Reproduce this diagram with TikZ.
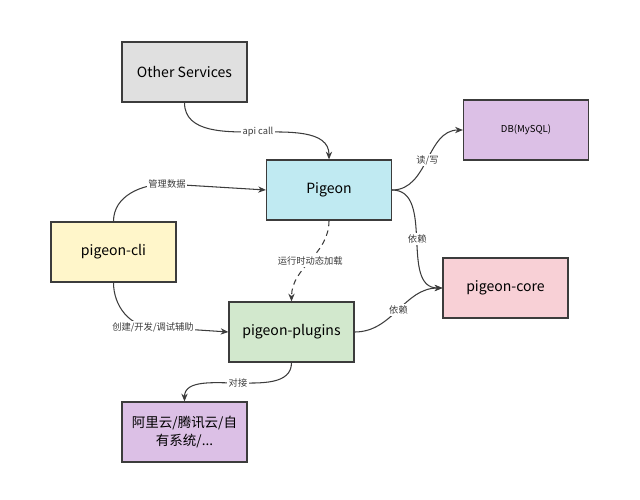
\documentclass[tikz,border=0pt]{standalone}
\usepackage{fontspec}
\setmainfont{Noto Sans CJK SC}
\usepackage{tikz}
\usetikzlibrary{arrows.meta, positioning}
\definecolor{mydark}{RGB}{60,60,60}
\definecolor{hdrgray}{RGB}{224,224,224}
\definecolor{hdrcyan}{RGB}{192,234,242}
\definecolor{hdrlilac}{RGB}{220,192,230}
\definecolor{hdryellow}{RGB}{255,246,202}
\definecolor{hdrgreen}{RGB}{210,232,205}
\definecolor{hdrpink}{RGB}{248,208,214}
\tikzset{
  pbox/.style={rectangle, draw=mydark, line width=0.9pt,
    minimum width=3.125cm, minimum height=1.5cm, align=center,
    font=\fontsize{10}{13}\selectfont},
  lbl/.style={fill=white, inner sep=1pt, font=\fontsize{6.6}{8}\selectfont,
    text=mydark},
  arrow/.style={-{Stealth[length=5.5pt, width=4.5pt]}, line width=0.75pt,
    color=mydark}
}

\begin{document}
\begin{tikzpicture}[on grid]
  \useasboundingbox (0,0) rectangle (16,-12.475);
  \node[pbox, fill=hdrgray] (os) at (4.6125,-1.8) {Other Services};
  \node[pbox, fill=hdrcyan, below right=2.95cm and 3.6125cm of os] (pig) {Pigeon};
  \node[pbox, fill=hdrlilac, above right=1.5cm and 4.925cm of pig,
    font=\fontsize{6.8}{8}\selectfont] (db) {DB(MySQL)};
  \node[pbox, fill=hdryellow, below left=1.55cm and 5.3875cm of pig] (cli) {pigeon-cli};
  \node[pbox, fill=hdrgreen, below left=3.55cm and 0.9375cm of pig] (plug) {pigeon-plugins};
  \node[pbox, fill=hdrpink, below right=2.45cm and 4.4125cm of pig] (core) {pigeon-core};
  \node[pbox, fill=hdrlilac, below left=2.5cm and 2.675cm of plug,
    font=\fontsize{9.6}{12.5}\selectfont] (ali) {阿里云/腾讯云/自\\有系统/...};
  % label points
  \coordinate (apic) at (6.45,-3.3);
  \coordinate (mgmt) at (4.175,-4.6);
  \coordinate (dev) at (3.825,-8.175);
  \coordinate (dock) at (5.95,-9.575);
  \draw[arrow] (os.south) to[out=-90, in=180] (apic) node[lbl] {api call}
    to[out=0, in=90] (pig.north);
  \draw[arrow] (cli.north) to[out=90, in=180] (mgmt) node[lbl] {管理数据}
    -- (pig.west);
  \draw[arrow] (cli.south) to[out=-90, in=180] (dev) node[lbl] {创建/开发/调试辅助}
    -- (plug.west);
  \draw[arrow, dashed, dash pattern=on 4pt off 3pt] (pig.south) to[out=-90, in=90]
    node[lbl] {运行时动态加载} (plug.north);
  \draw[arrow] (pig.east) to[out=0, in=180] node[lbl] {读/写} (db.west);
  \draw[arrow] (pig.east) to[out=0, in=180] node[lbl] {依赖} (core.west);
  \draw[arrow] (plug.east) to[out=0, in=180] node[lbl] {依赖} (core.west);
  \draw[arrow] (plug.south) to[out=-90, in=0] (dock) node[lbl] {对接}
    to[out=180, in=90] (ali.north);
\end{tikzpicture}
\end{document}
